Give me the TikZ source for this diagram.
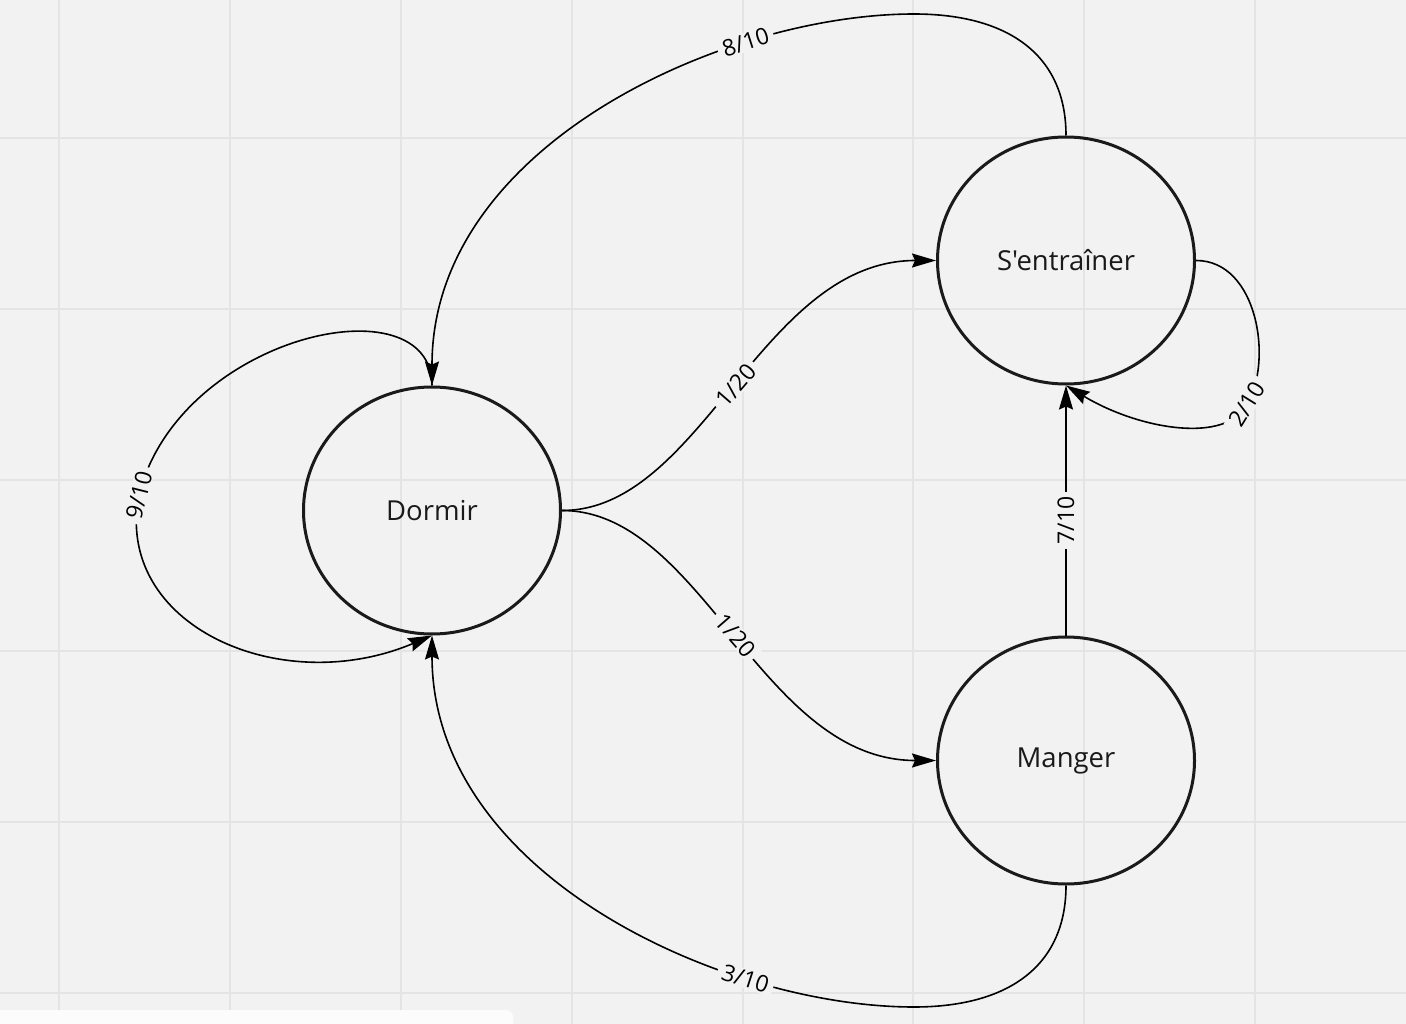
\documentclass[tikz,border=0pt]{standalone}
\usepackage{fontspec}
\setmainfont{Open Sans}[Ligatures=TeXOff]
\usetikzlibrary{arrows.meta,shapes.geometric}
\definecolor{bgc}{HTML}{F2F2F2}
\definecolor{gridc}{HTML}{E4E4E4}
\definecolor{inkc}{HTML}{1A1A1A}
\definecolor{panelc}{HTML}{FCFCFC}
\tikzset{
  statebox/.style={ellipse, draw=inkc, line width=3pt, minimum width=257pt, minimum height=247pt, inner sep=0pt,
    font=\fontsize{27.5}{32}\selectfont, text=inkc},
  edge/.style={draw=black, line width=1.6pt, -{Stealth[length=24pt,width=14pt,inset=3pt]}},
  lbl/.style={fill=bgc, sloped, inner xsep=5pt, inner ysep=1pt, font=\fontsize{23}{26}\selectfont, text=black},
  gridline/.style={draw=gridc, line width=2pt}
}
\begin{document}
\begin{tikzpicture}[x=1pt,y=-1pt]
\useasboundingbox (0,0) rectangle (1406,1024);
\fill[bgc] (0,0) rectangle (1406,1024);
% grid
\foreach \gx in {59,230,401,572,743,913,1084,1255}{\draw[gridline] (\gx,0) -- (\gx,1024);}
\foreach \gy in {138,309,480,651,822,993}{\draw[gridline] (0,\gy) -- (1406,\gy);}
% bottom panel
\fill[panelc, rounded corners=7pt] (-10,1010) rectangle (513,1040);

% states
\node[statebox] (D) at (432,510.5) {Dormir};
\node[statebox] (S) at (1066,260.5) {S'entraîner};
\node[statebox] (M) at (1066,760.5) {Manger};

% 8/10 : S -> D
\draw[edge] (S.north) .. controls +(0,-80) and +(95,0) .. (914,14)
  .. controls +(-190,0) and +(0,-240) .. (D.north) node[lbl, pos=0.27] {8/10};
% 3/10 : M -> D
\draw[edge] (M.south) .. controls +(0,80) and +(95,0) .. (914,1007)
  .. controls +(-190,0) and +(0,240) .. (D.south) node[lbl, pos=0.27] {3/10};
% 9/10 : D -> D
\draw[edge] (D.north) .. controls +(0,-106) and +(40,-160) .. (139,495) node[lbl, pos=1] {9/10}
  .. controls +(-26,130) and +(-152,64) .. (D.south);
% 1/20 : D -> S
\draw[edge] (D.east) .. controls +(140,0) and +(-175,0) .. (S.west) node[lbl, pos=0.5] {1/20};
% 1/20 : D -> M
\draw[edge] (D.east) .. controls +(140,0) and +(-175,0) .. (M.west) node[lbl, pos=0.5] {1/20};
% 7/10 : M -> S
\draw[edge] (M.north) -- node[lbl, pos=0.46] {7/10} (S.south);
% 2/10 : S -> S
\draw[edge] (S.east) .. controls +(62,0) and +(26,-42) .. (1247,404) node[lbl, pos=1] {2/10}
  .. controls +(-20,40) and +(74,44.5) .. (S.south);
\end{tikzpicture}
\end{document}
